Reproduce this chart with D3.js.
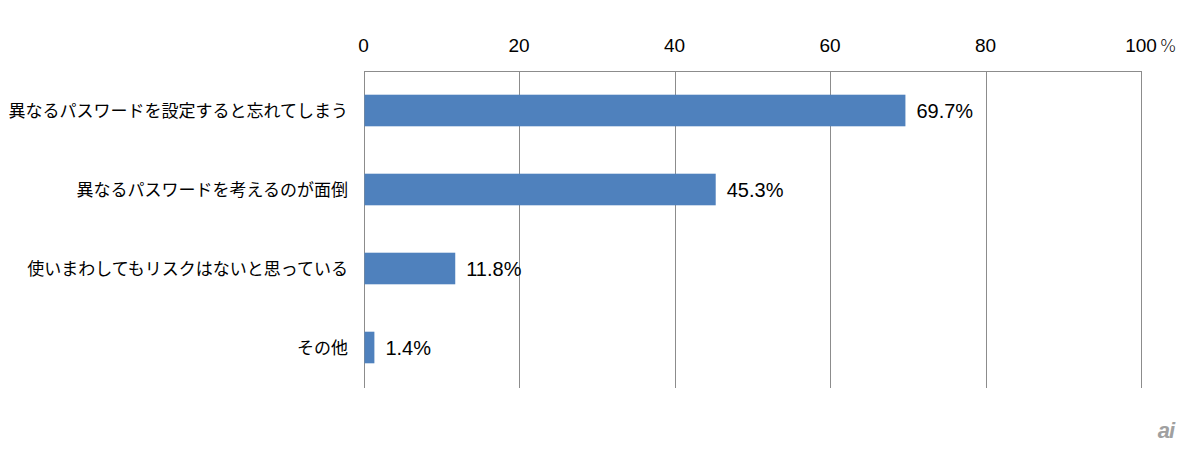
<!DOCTYPE html>
<html><head><meta charset="utf-8">
<script src="https://cdn.jsdelivr.net/npm/d3@7"></script>
<style>body{margin:0;background:#fff;}svg{display:block;}</style>
</head><body>
<script>
const categories = ["異なるパスワードを設定すると忘れてしまう","異なるパスワードを考えるのが面倒","使いまわしてもリスクはないと思っている","その他"];
const values = [69.7, 45.3, 11.8, 1.4];
const ticks = [0, 20, 40, 60, 80, 100];

const W = 1200, H = 451;
const svg = d3.select("body").append("svg").attr("width", W).attr("height", H);
const x = d3.scaleLinear().domain([0, 100]).range([363.5, 1141]);
const y = d3.scaleBand().domain(categories).range([71, 387]).paddingInner(0.6).paddingOuter(0.3);

// gridlines
svg.append("g").selectAll("line").data(ticks).join("line")
  .attr("x1", d => Math.round(x(d)) + 0.5).attr("x2", d => Math.round(x(d)) + 0.5)
  .attr("y1", 71).attr("y2", 388).attr("stroke", "#8c8c8c").attr("stroke-width", 1);
svg.append("line").attr("x1", Math.round(x(0)) + 0.5).attr("x2", Math.round(x(100)) + 0.5)
  .attr("y1", 71.5).attr("y2", 71.5).attr("stroke", "#8c8c8c");

// tick labels
svg.append("g").selectAll("text").data(ticks).join("text")
  .attr("x", d => x(d)).attr("y", 52).attr("text-anchor", "middle")
  .attr("font-family", "Liberation Sans, Arial, sans-serif").attr("font-size", 19).attr("fill", "#000")
  .text(d => d);
svg.append("text").attr("x", x(100) + 19).attr("y", 52)
  .attr("font-family", "DejaVu Sans, sans-serif").attr("font-size", 17).attr("font-weight", 200).attr("fill", "#000").text("%");

// bars
svg.append("g").selectAll("rect").data(values).join("rect")
  .attr("x", x(0) + 1).attr("y", (d, i) => y(categories[i]))
  .attr("width", d => x(d) - x(0) - 1).attr("height", y.bandwidth())
  .attr("fill", "#4F81BD");

// value labels
svg.append("g").selectAll("text").data(values).join("text")
  .attr("x", d => x(d) + 11).attr("y", (d, i) => y(categories[i]) + y.bandwidth() / 2 + 7)
  .attr("font-family", "Liberation Sans, Arial, sans-serif").attr("font-size", 20).attr("fill", "#000")
  .text(d => d.toFixed(1) + "%");

// category labels
svg.append("g").selectAll("text").data(categories).join("text")
  .attr("x", 348).attr("y", d => y(d) + y.bandwidth() / 2 + 6).attr("text-anchor", "end")
  .attr("font-family", "Noto Sans CJK JP, sans-serif").attr("font-size", 17).attr("fill", "#000")
  .text(d => d);

// logo
svg.append("text").attr("x", 1166).attr("y", 438).attr("text-anchor", "middle")
  .attr("font-family", "Liberation Sans, Arial, sans-serif").attr("font-size", 22).attr("font-style", "italic")
  .attr("font-weight", "bold").attr("fill", "#a0a0a0").attr("letter-spacing", -1).text("ai");
</script>
</body></html>
